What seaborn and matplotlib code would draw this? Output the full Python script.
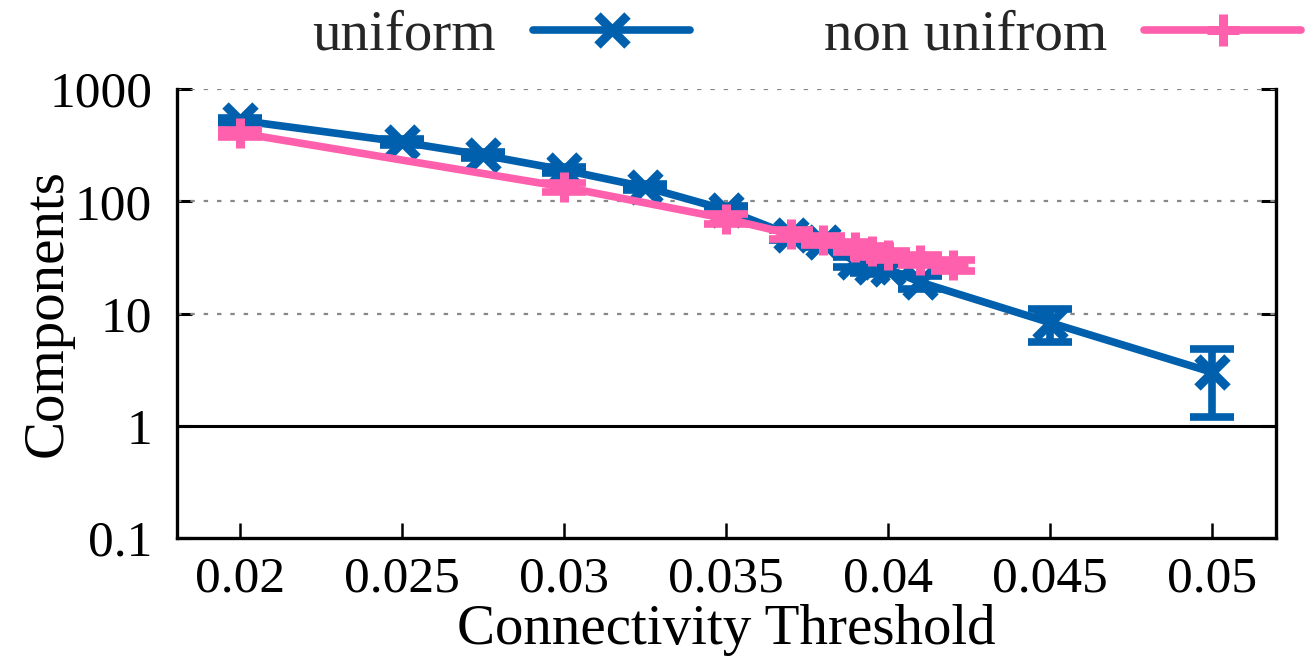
import matplotlib
matplotlib.use("Agg")
import matplotlib.pyplot as plt
from matplotlib.lines import Line2D
import seaborn as sns
import pandas as pd

# Connectivity thresholds and component counts (mean with error)
uniform_x = [0.02, 0.025, 0.0275, 0.03, 0.0325, 0.035, 0.037, 0.038, 0.039, 0.0395, 0.04, 0.041, 0.045, 0.05]
uniform_y = [525, 337, 258, 190, 134, 84, 50, 43, 29, 26, 25, 19, 8.3, 3.0]
uniform_err = [25, 20, 15, 12, 8, 6, 5, 4, 3, 3, 2.5, 2.5, 2.7, 1.8]

nonuni_x = [0.02, 0.03, 0.035, 0.037, 0.038, 0.039, 0.0395, 0.04, 0.041, 0.042]
nonuni_y = [405, 134, 70, 51, 45, 39, 36, 33, 30, 27]
nonuni_err = [30, 12, 7, 5, 4, 4, 4, 3, 3, 3]

x_ticks = [0.02, 0.025, 0.03, 0.035, 0.04, 0.045, 0.05]
x_tick_labels = ["0.02", "0.025", "0.03", "0.035", "0.04", "0.045", "0.05"]
y_ticks = [0.1, 1, 10, 100, 1000]
y_tick_labels = ["0.1", "1", "10", "100", "1000"]

BLUE = "#0060ad"
PINK = "#ff60ad"
LABEL_SIZE = 41
TICK_SIZE = 37

sns.set_theme(style="white")
plt.rcParams["font.family"] = ["Liberation Serif", "DejaVu Serif"]

fig = plt.figure(figsize=(13.08, 6.58), dpi=100)
ax = fig.add_axes([177 / 1308, 1 - 538 / 658, (1276 - 177) / 1308, (538 - 89) / 658])

df_u = pd.DataFrame({"x": uniform_x, "y": uniform_y})
df_n = pd.DataFrame({"x": nonuni_x, "y": nonuni_y})

series = [
    (df_u, uniform_err, BLUE, "x", 3),
    (df_n, nonuni_err, PINK, "+", 4),
]
for df, err, color, mk, z in series:
    ax.errorbar(df["x"], df["y"], yerr=err, fmt="none", ecolor=color,
                elinewidth=5.5, capsize=16, capthick=5.5, zorder=z)
    sns.lineplot(data=df, x="x", y="y", ax=ax, color=color, lw=5.5,
                 marker=mk, markersize=21, mew=6.5, mec=color,
                 zorder=z, estimator=None, sort=True)

ax.set_yscale("log")
ax.set_ylim(0.1, 1000)
ax.set_xlim(0.01806, 0.05198)
ax.set_xticks(x_ticks)
ax.set_xticklabels(x_tick_labels)
ax.set_yticks(y_ticks)
ax.set_yticklabels(y_tick_labels)
ax.yaxis.set_minor_locator(matplotlib.ticker.NullLocator())

# dotted grid on the upper decades, solid reference line at 1
for v in [10, 100, 1000]:
    ax.axhline(v, color="#888888", lw=1.6, ls=(0, (2, 4)), zorder=1)
ax.axhline(1, color="black", lw=2.2, zorder=1)

for side in ["left", "right", "bottom"]:
    ax.spines[side].set_visible(True)
    ax.spines[side].set_color("black")
    ax.spines[side].set_linewidth(2.4)
ax.spines["top"].set_visible(False)

ax.tick_params(axis="y", which="major", direction="in", length=11, width=2.2,
               left=True, right=True, labelsize=TICK_SIZE, pad=18, colors="black")
ax.tick_params(axis="x", which="major", direction="in", length=11, width=1.8,
               bottom=True, top=False, labelsize=TICK_SIZE, pad=13, colors="black")

ax.set_xlabel("Connectivity Threshold", fontsize=LABEL_SIZE, color="black")
ax.set_ylabel("Components", fontsize=LABEL_SIZE, color="black")
ax.xaxis.set_label_coords(0.5, -0.205)
ax.xaxis.label.set_verticalalignment("center")
ax.yaxis.set_label_coords(-0.118, 0.5)
ax.yaxis.label.set_verticalalignment("center")

handles = [
    Line2D([], [], color=BLUE, lw=5.5, marker="x", markersize=21, mew=6.5),
    Line2D([], [], color=PINK, lw=5.5, marker="+", markersize=23, mew=6.5),
]
fig.legend(handles, ["uniform", "non unifrom"], loc="center left",
           bbox_to_anchor=(312 / 1308, 1 - 36 / 658), ncol=2, frameon=False,
           markerfirst=False, fontsize=LABEL_SIZE, handlelength=2.75,
           handletextpad=0.66, columnspacing=2.35, borderpad=0, borderaxespad=0)

fig.savefig("out.png", dpi=100)
